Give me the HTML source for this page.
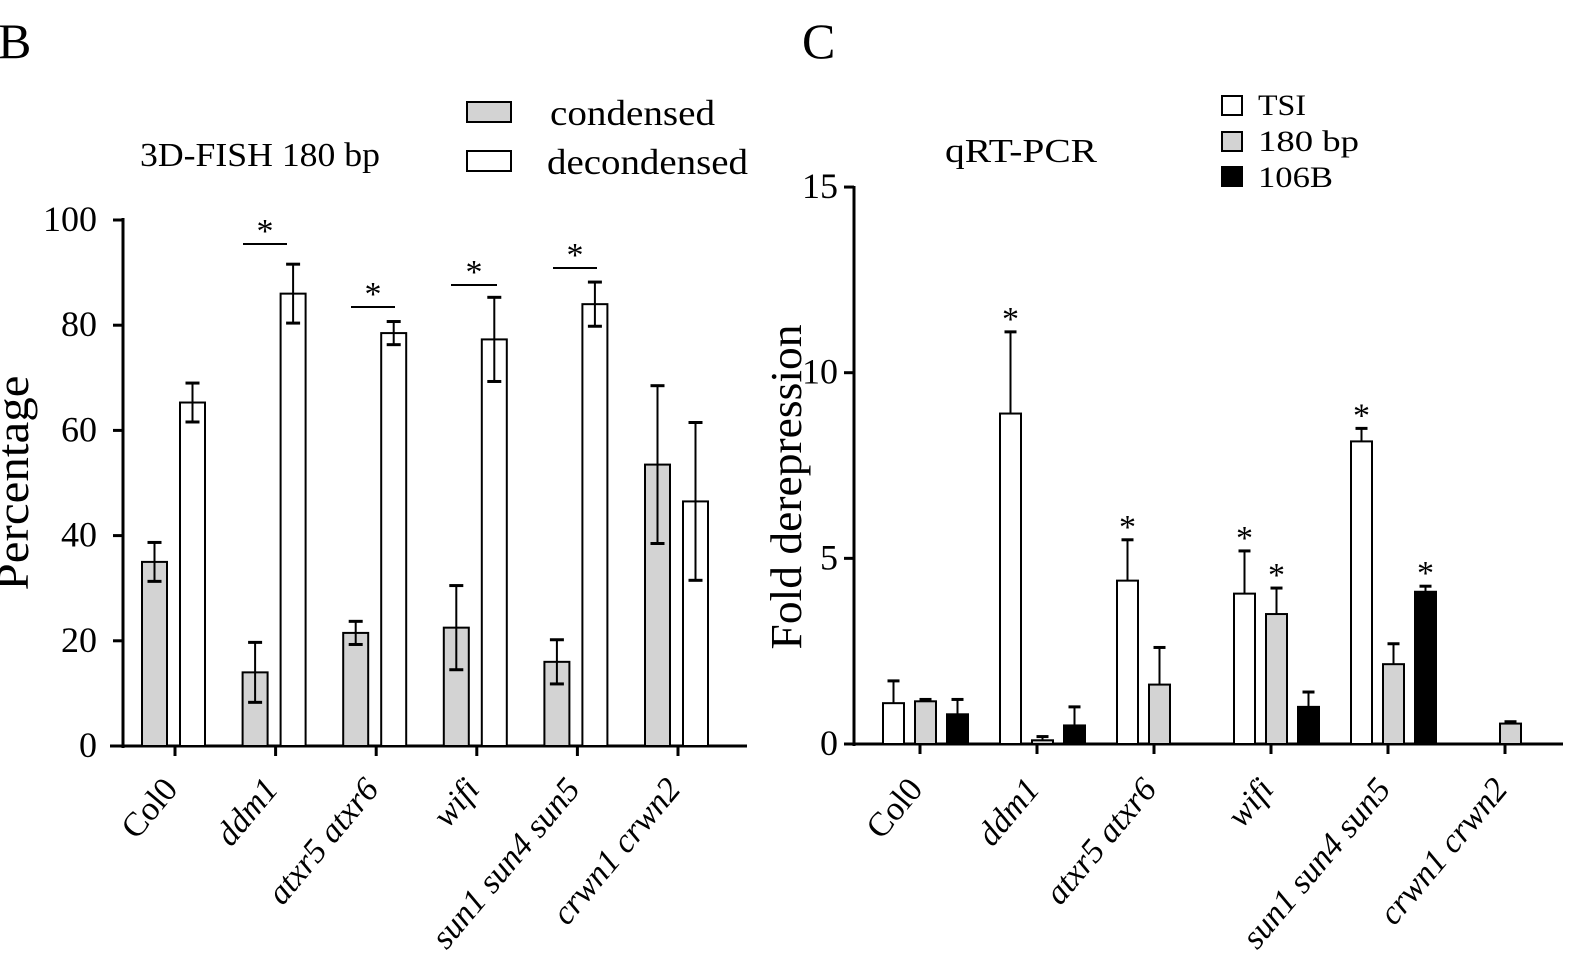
<!DOCTYPE html>
<html><head><meta charset="utf-8"><style>
html,body{margin:0;padding:0;background:#fff;}
svg{display:block;font-family:"Liberation Serif",serif;}
</style></head><body>
<svg width="1578" height="955" viewBox="0 0 1578 955" xmlns="http://www.w3.org/2000/svg">
<g fill="#000">
<text x="-2" y="58" font-size="50">B</text>
<text x="802" y="58" font-size="50">C</text>
<text x="140" y="166" font-size="34" textLength="240" lengthAdjust="spacingAndGlyphs">3D-FISH 180 bp</text>
<text x="550" y="125" font-size="36" textLength="165" lengthAdjust="spacingAndGlyphs">condensed</text>
<text x="547" y="174" font-size="36" textLength="201" lengthAdjust="spacingAndGlyphs">decondensed</text>
<text x="945" y="162" font-size="34" textLength="152" lengthAdjust="spacingAndGlyphs">qRT-PCR</text>
<text x="1258" y="115" font-size="30" textLength="48" lengthAdjust="spacingAndGlyphs">TSI</text>
<text x="1258" y="151" font-size="30" textLength="101" lengthAdjust="spacingAndGlyphs">180 bp</text>
<text x="1258" y="187" font-size="30" textLength="75" lengthAdjust="spacingAndGlyphs">106B</text>
<text transform="translate(28,483) rotate(-90)" text-anchor="middle" font-size="46" textLength="215" lengthAdjust="spacingAndGlyphs">Percentage</text>
<text transform="translate(801,487) rotate(-90)" text-anchor="middle" font-size="44" textLength="325" lengthAdjust="spacingAndGlyphs">Fold derepression</text>
</g>
<rect x="467" y="102" width="44" height="20" fill="#d3d3d3" stroke="#000" stroke-width="2"/>
<rect x="467" y="151" width="44" height="20" fill="#fff" stroke="#000" stroke-width="2"/>
<rect x="1222" y="96" width="20" height="19" fill="#fff" stroke="#000" stroke-width="2"/>
<rect x="1222" y="132" width="20" height="19" fill="#d3d3d3" stroke="#000" stroke-width="2"/>
<rect x="1222" y="167" width="20" height="19" fill="#000" stroke="#000" stroke-width="2"/>
<g id="left" stroke="#000" stroke-width="2"></g>
<g id="right" stroke="#000" stroke-width="2"></g>
<g id="txt" font-size="34"></g>
</svg>
<script>
const NS="http://www.w3.org/2000/svg";
function el(p,t,a,txt){const e=document.createElementNS(NS,t);for(const k in a)e.setAttribute(k,a[k]);if(txt!==undefined)e.textContent=txt;p.appendChild(e);return e;}
const L=document.getElementById('left'),R=document.getElementById('right'),T=document.getElementById('txt');
const y0=746, k=5.26;
const yl=v=>y0-k*v;
el(L,'line',{x1:123,y1:218,x2:123,y2:y0+2,'stroke-width':3});
el(L,'line',{x1:110,y1:y0,x2:747,y2:y0,'stroke-width':3});
for(let v=0;v<=100;v+=20){el(L,'line',{x1:113,y1:yl(v),x2:123,y2:yl(v),'stroke-width':3});el(T,'text',{x:97,y:yl(v)+11,'text-anchor':'end','font-size':36},v);}
const lv=[[35,3.7,65.3,3.7],[14,5.7,86,5.6],[21.5,2.2,78.5,2.2],[22.5,8,77.3,8],[16,4.2,84,4.2],[53.5,15,46.5,15]];
const names=["Col0","ddm1","atxr5 atxr6","wifi","sun1 sun4 sun5","crwn1 crwn2"];
lv.forEach((d,i)=>{const t=175+100.6*i;
 el(L,'line',{x1:t,y1:y0,x2:t,y2:y0+10,'stroke-width':3});
 [[t-33,d[0],d[1],'#d3d3d3'],[t+5,d[2],d[3],'#fff']].forEach(b=>{
  el(L,'rect',{x:b[0],y:yl(b[1]),width:25,height:k*b[1],fill:b[3]});
  const c=b[0]+12.5;el(L,'line',{x1:c,y1:yl(b[1]-b[2]),x2:c,y2:yl(b[1]+b[2])});
  el(L,'line',{x1:c-7,y1:yl(b[1]-b[2]),x2:c+7,y2:yl(b[1]-b[2]),'stroke-width':3});
  el(L,'line',{x1:c-7,y1:yl(b[1]+b[2]),x2:c+7,y2:yl(b[1]+b[2]),'stroke-width':3});
 });
 el(T,'text',{transform:`translate(${t+4},790) rotate(-50)`,'text-anchor':'end','font-style':i?'italic':'normal'},names[i]);
});
[[243,287,244],[351,395,307],[451,497,285],[553,597,268]].forEach(s=>{
 el(L,'line',{x1:s[0],y1:s[2],x2:s[1],y2:s[2]});
 el(T,'text',{x:(s[0]+s[1])/2,y:s[2]-2,'text-anchor':'middle'},'*');
});
const r0=744, rk=37.13, yr=v=>r0-rk*v;
el(R,'line',{x1:854,y1:186,x2:854,y2:r0+2,'stroke-width':3});
el(R,'line',{x1:852,y1:r0,x2:1563,y2:r0,'stroke-width':3});
for(let v=0;v<=15;v+=5){el(R,'line',{x1:844,y1:yr(v),x2:854,y2:yr(v),'stroke-width':3});el(T,'text',{x:838,y:yr(v)+11,'text-anchor':'end','font-size':36},v);}
const rv=[[[1.1,0.6],[1.15,0.05],[0.8,0.4]],[[8.9,2.2,1],[0.1,0.1],[0.5,0.5]],[[4.4,1.1,1],[1.6,1.0],null],[[4.05,1.15,1],[3.5,0.7,1],[1.0,0.4]],[[8.15,0.35,1],[2.15,0.55],[4.1,0.15,1]],[null,[0.55,0.05],null]];
const cols=['#fff','#d3d3d3','#000'],off=[-42,-10,22];
rv.forEach((g,i)=>{const t=920+117*i;
 el(R,'line',{x1:t,y1:r0,x2:t,y2:r0+10,'stroke-width':3});
 g.forEach((b,j)=>{if(!b)return;const x=t+off[j]+5;
  el(R,'rect',{x:x,y:yr(b[0]),width:21,height:rk*b[0],fill:cols[j]});
  const c=x+10.5;el(R,'line',{x1:c,y1:yr(b[0]),x2:c,y2:yr(b[0]+b[1])});
  el(R,'line',{x1:c-6,y1:yr(b[0]+b[1]),x2:c+6,y2:yr(b[0]+b[1]),'stroke-width':3});
  if(b[2])el(T,'text',{x:c,y:yr(b[0]+b[1])-2,'text-anchor':'middle'},'*');
 });
 el(T,'text',{transform:`translate(${t+4},790) rotate(-50)`,'text-anchor':'end','font-style':i?'italic':'normal'},names[i]);
});
</script>
</body></html>
